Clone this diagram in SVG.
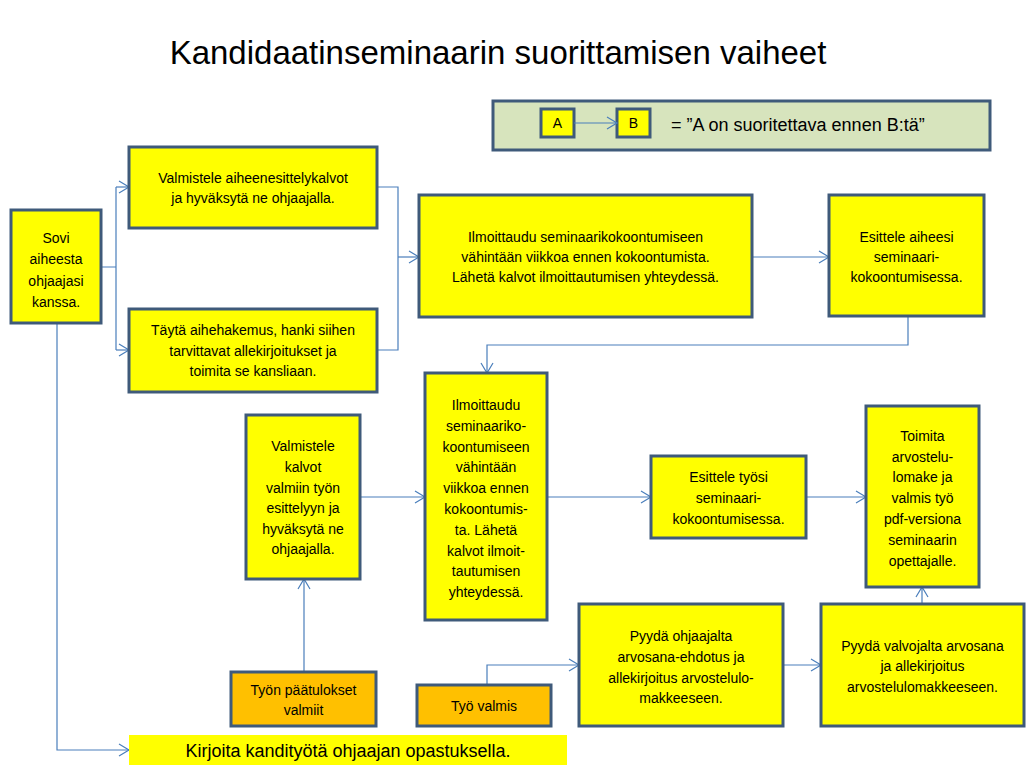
<svg xmlns="http://www.w3.org/2000/svg" width="1029" height="771" viewBox="0 0 1029 771">
<defs>
<marker id="arr" markerWidth="14" markerHeight="14" refX="12" refY="7" orient="auto" markerUnits="userSpaceOnUse">
<path d="M2,1 L12,7 L2,13" fill="none" stroke="#4a7ebb" stroke-width="1.2"/>
</marker>
<style>
.box{fill:#ffff00;stroke:#3f5a7a;stroke-width:3}
.org{fill:#ffc000;stroke:#3f5a7a;stroke-width:3}
.t{font-family:"Liberation Sans",Arial,sans-serif;font-size:14px;fill:#000;text-anchor:middle}
.c{fill:none;stroke:#4a7ebb;stroke-width:1.2}
.ca{fill:none;stroke:#4a7ebb;stroke-width:1.2;marker-end:url(#arr)}
</style>
</defs>
<rect width="1029" height="771" fill="#fff"/>
<text x="498" y="64" style="font-family:'Liberation Sans',Arial,sans-serif;font-size:33px;fill:#000;text-anchor:middle">Kandidaatinseminaarin suorittamisen vaiheet</text>

<g id="legend">
<rect x="493" y="101" width="497" height="49" fill="#d7e4bd" stroke="#3f5a7a" stroke-width="3"/>
<rect x="541" y="109" width="33" height="28" class="box"/>
<text x="557.5" y="128" class="t">A</text>
<rect x="617" y="109" width="33" height="28" class="box"/>
<text x="633.5" y="128" class="t">B</text>
<path d="M574,123 L617,123" class="ca"/>
<text x="671" y="131" style="font-family:'Liberation Sans',Arial,sans-serif;font-size:18px;fill:#000">= ”A on suoritettava ennen B:tä”</text>
</g>

<g id="connectors">
<path d="M101,267 H116 M116,187 V350" class="c"/>
<path d="M116,187 H129" class="ca"/>
<path d="M116,350 H129" class="ca"/>
<path d="M377,187 H398 V350 H377" class="c"/>
<path d="M398,257 H419" class="ca"/>
<path d="M752,257 H829" class="ca"/>
<path d="M908,316 V345 H487 V373" class="ca"/>
<path d="M360,497 H425" class="ca"/>
<path d="M547,497 H651" class="ca"/>
<path d="M806,497 H866" class="ca"/>
<path d="M304,672 V579" class="ca"/>
<path d="M57,323 V750 H129" class="ca"/>
<path d="M487,685 V665 H579" class="ca"/>
<path d="M783,665 H821" class="ca"/>
<path d="M922,604 V587" class="ca"/>
</g>

<g id="n-sovi">
<rect x="11" y="210" width="90" height="113" class="box"/>
<text class="t"><tspan x="56" y="243">Sovi</tspan><tspan x="56" y="264">aiheesta</tspan><tspan x="56" y="286">ohjaajasi</tspan><tspan x="56" y="307">kanssa.</tspan></text>
</g>
<g id="n-valmistele1">
<rect x="129" y="147" width="248" height="81" class="box"/>
<text class="t"><tspan x="253" y="183">Valmistele aiheenesittelykalvot</tspan><tspan x="253" y="203">ja hyväksytä ne ohjaajalla.</tspan></text>
</g>
<g id="n-tayta">
<rect x="129" y="309" width="248" height="83" class="box"/>
<text class="t"><tspan x="253" y="335">Täytä aihehakemus,  hanki siihen</tspan><tspan x="253" y="356">tarvittavat allekirjoitukset ja</tspan><tspan x="253" y="376">toimita se kansliaan.</tspan></text>
</g>
<g id="n-ilmo1">
<rect x="419" y="195" width="333" height="122" class="box"/>
<text class="t"><tspan x="585.5" y="242">Ilmoittaudu seminaarikokoontumiseen</tspan><tspan x="585.5" y="262">vähintään viikkoa ennen  kokoontumista.</tspan><tspan x="585.5" y="282">Lähetä kalvot ilmoittautumisen yhteydessä.</tspan></text>
</g>
<g id="n-esittele1">
<rect x="829" y="195" width="155" height="121" class="box"/>
<text class="t"><tspan x="906.5" y="242">Esittele aiheesi</tspan><tspan x="906.5" y="262">seminaari-</tspan><tspan x="906.5" y="282">kokoontumisessa.</tspan></text>
</g>
<g id="n-ilmo2">
<rect x="425" y="373" width="122" height="247" class="box"/>
<text class="t"><tspan x="486" y="410">Ilmoittaudu</tspan><tspan x="486" y="431">seminaariko-</tspan><tspan x="486" y="452">koontumiseen</tspan><tspan x="486" y="472">vähintään</tspan><tspan x="486" y="493">viikkoa ennen</tspan><tspan x="486" y="514">kokoontumis-</tspan><tspan x="486" y="535">ta. Lähetä</tspan><tspan x="486" y="556">kalvot ilmoit-</tspan><tspan x="486" y="576">tautumisen</tspan><tspan x="486" y="597">yhteydessä.</tspan></text>
</g>
<g id="n-valmistele2">
<rect x="246" y="415" width="114" height="164" class="box"/>
<text class="t"><tspan x="303" y="451">Valmistele</tspan><tspan x="303" y="472">kalvot</tspan><tspan x="303" y="493">valmiin työn</tspan><tspan x="303" y="513">esittelyyn ja</tspan><tspan x="303" y="534">hyväksytä ne</tspan><tspan x="303" y="554">ohjaajalla.</tspan></text>
</g>
<g id="n-esittele2">
<rect x="651" y="456" width="155" height="82" class="box"/>
<text class="t"><tspan x="728.5" y="482">Esittele työsi</tspan><tspan x="728.5" y="503">seminaari-</tspan><tspan x="728.5" y="524">kokoontumisessa.</tspan></text>
</g>
<g id="n-toimita">
<rect x="866" y="406" width="113" height="181" class="box"/>
<text class="t"><tspan x="922.5" y="441">Toimita</tspan><tspan x="922.5" y="462">arvostelu-</tspan><tspan x="922.5" y="482">lomake ja</tspan><tspan x="922.5" y="503">valmis työ</tspan><tspan x="922.5" y="524">pdf-versiona</tspan><tspan x="922.5" y="545">seminaarin</tspan><tspan x="922.5" y="566">opettajalle.</tspan></text>
</g>
<g id="n-pyyda1">
<rect x="579" y="604" width="204" height="122" class="box"/>
<text class="t"><tspan x="681" y="641">Pyydä ohjaajalta</tspan><tspan x="681" y="662">arvosana-ehdotus ja</tspan><tspan x="681" y="683">allekirjoitus arvostelulo-</tspan><tspan x="681" y="703">makkeeseen.</tspan></text>
</g>
<g id="n-pyyda2">
<rect x="821" y="604" width="203" height="122" class="box"/>
<text class="t"><tspan x="922.5" y="651">Pyydä valvojalta arvosana</tspan><tspan x="922.5" y="671">ja allekirjoitus</tspan><tspan x="922.5" y="692">arvostelulomakkeeseen.</tspan></text>
</g>
<g id="n-paatulokset">
<rect x="231" y="672" width="145" height="54" class="org"/>
<text class="t"><tspan x="303.5" y="695">Työn päätulokset</tspan><tspan x="303.5" y="715">valmiit</tspan></text>
</g>
<g id="n-tyovalmis">
<rect x="417" y="685" width="134" height="41" class="org"/>
<text class="t"><tspan x="484" y="711">Työ valmis</tspan></text>
</g>
<g id="n-kirjoita">
<rect x="129" y="735" width="438" height="30" fill="#ffff00"/>
<text x="348" y="757" style="font-family:'Liberation Sans',Arial,sans-serif;font-size:18px;fill:#000;text-anchor:middle">Kirjoita kandityötä ohjaajan opastuksella.</text>
</g>
</svg>
